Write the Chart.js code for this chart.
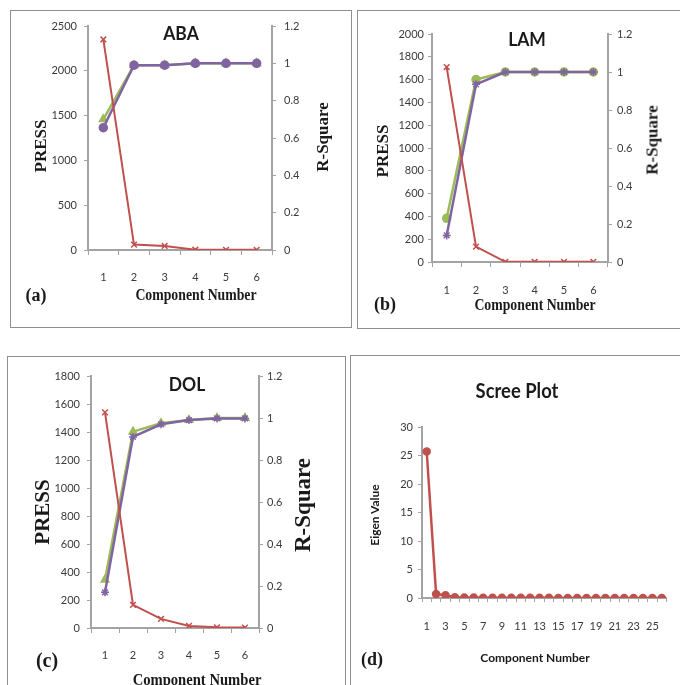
<!DOCTYPE html>
<html>
<head>
<meta charset="utf-8">
<script src="https://cdn.jsdelivr.net/npm/chart.js@4.4.0/dist/chart.umd.min.js"></script>
<style>
  body { margin: 0; width: 680px; height: 685px; position: relative; overflow: hidden; background: #fff; }
  .panel { position: absolute; border: 1px solid #8f8f8f; box-sizing: border-box; }
  canvas { position: absolute; }
  .txt { position: absolute; white-space: nowrap; line-height: 1; color: #1a1a1a; }
  .serif { font-family: "Liberation Serif", serif; font-weight: bold; }
  .cal { font-family: Lato, sans-serif; font-weight: bold; }
</style>
</head>
<body>
<div class="panel" style="left:10px;top:10px;width:342px;height:318px"></div>
<div class="panel" style="left:357px;top:10px;width:340px;height:319px"></div>
<div class="panel" style="left:7px;top:356px;width:339px;height:340px"></div>
<div class="panel" style="left:350px;top:355px;width:340px;height:340px"></div>

<canvas id="aba" width="339" height="316" style="left:11px;top:11px"></canvas>
<canvas id="lam" width="322" height="316" style="left:358px;top:11px"></canvas>
<canvas id="dol" width="337" height="328" style="left:8px;top:357px"></canvas>
<canvas id="scree" width="329" height="329" style="left:351px;top:356px"></canvas>

<script>
// component numbers on the x axis
const components = ['1', '2', '3', '4', '5', '6'];

// ABA
const abaPress = [2350, 60, 45, 3, 2, 2];
const abaGreen = [0.70, 0.99, 0.99, 1.0, 1.0, 1.0];
const abaPurple = [0.655, 0.99, 0.99, 1.0, 1.0, 1.0];

// LAM
const lamPress = [1710, 135, 2, 2, 2, 2];
const lamGreen = [0.23, 0.96, 1.0, 1.0, 1.0, 1.0];
const lamPurple = [0.14, 0.935, 1.0, 1.0, 1.0, 1.0];

// DOL
const dolPress = [1540, 165, 65, 15, 5, 3];
const dolGreen = [0.23, 0.935, 0.975, 0.99, 1.0, 1.0];
const dolPurple = [0.17, 0.91, 0.97, 0.99, 0.998, 0.998];

// scree plot
const screeComponents = [];
for (let i = 1; i <= 26; i++) screeComponents.push(String(i));
const eigenValues = [25.7, 0.7, 0.5, 0.12, 0.08, 0.07, 0.06, 0.05, 0.05, 0.04, 0.04, 0.03, 0.03,
                     0.03, 0.02, 0.02, 0.02, 0.02, 0.01, 0.01, 0.01, 0.01, 0.01, 0.01, 0.01, 0.01];

const red = '#c0504d';
const green = '#9bbb59';
const purple = '#8064a2';
const axisGray = '#a3a3a3';
const tickFont = { family: 'Lato', size: 11 };
const tickColor = '#3a3a3a';

Chart.defaults.animation = false;
Chart.defaults.responsive = false;
Chart.defaults.plugins.legend.display = false;
Chart.defaults.plugins.tooltip.enabled = false;

function plsChart(id, press, g, p, pressMax, pressStep, box, gStyle, pStyle) {
  new Chart(document.getElementById(id), {
    type: 'line',
    data: {
      labels: components,
      datasets: [
        { data: press, yAxisID: 'y', borderColor: red, backgroundColor: red, borderWidth: 2,
          pointStyle: 'crossRot', pointRadius: 4, pointBorderWidth: 1.5, order: 1 },
        { data: g, yAxisID: 'y1', borderColor: green, backgroundColor: green, borderWidth: 2.5,
          pointStyle: gStyle, pointRadius: 3.5, order: 3 },
        { data: p, yAxisID: 'y1', borderColor: purple, backgroundColor: purple, borderWidth: 2.5,
          pointStyle: pStyle, pointRadius: 4, pointBorderWidth: 1.5, order: 2 }
      ]
    },
    options: {
      layout: { padding: { top: box.top, left: 0, right: 0, bottom: 0 } },
      scales: {
        x: {
          offset: true,
          grid: { offset: true, drawOnChartArea: false, tickLength: 5, color: axisGray },
          border: { color: axisGray, width: 2 },
          ticks: { font: tickFont, color: tickColor, padding: box.xPad, maxRotation: 0 },
          afterFit: s => { s.height = box.xH; }
        },
        y: {
          position: 'left', min: 0, max: pressMax,
          grid: { drawOnChartArea: false, tickLength: 4, color: axisGray },
          border: { color: axisGray, width: 2 },
          ticks: { stepSize: pressStep, font: tickFont, color: tickColor, padding: box.lPad,
                   callback: v => String(v) },
          afterFit: s => { s.width = box.leftW; }
        },
        y1: {
          position: 'right', min: 0, max: 1.2,
          grid: { drawOnChartArea: false, tickLength: 4, color: axisGray },
          border: { color: axisGray, width: 2 },
          ticks: { stepSize: 0.2, font: tickFont, color: tickColor, padding: box.rPad,
                   callback: v => String(Number(v.toFixed(1))) },
          afterFit: s => { s.width = box.rightW; }
        }
      }
    }
  });
}

plsChart('aba', abaPress, abaGreen, abaPurple, 2500, 500,
  { top: 15, leftW: 77, rightW: 78, xH: 77, xPad: 16, lPad: 7, rPad: 8 }, 'triangle', 'circle');
plsChart('lam', lamPress, lamGreen, lamPurple, 2000, 200,
  { top: 23, leftW: 74, rightW: 72, xH: 65, xPad: 17, lPad: 4, rPad: 5 }, 'circle', 'star');
plsChart('dol', dolPress, dolGreen, dolPurple, 1800, 200,
  { top: 19, leftW: 83, rightW: 86, xH: 57, xPad: 16, lPad: 7, rPad: 4 }, 'triangle', 'star');

new Chart(document.getElementById('scree'), {
  type: 'line',
  data: {
    labels: screeComponents,
    datasets: [{ data: eigenValues, borderColor: red, backgroundColor: red, borderWidth: 2.5,
                 pointStyle: 'circle', pointRadius: 3 }]
  },
  options: {
    layout: { padding: { top: 71, left: 0, right: 10, bottom: 0 } },
    scales: {
      x: {
        offset: true,
        grid: { offset: true, drawOnChartArea: false, tickLength: 4, color: axisGray },
        border: { color: axisGray, width: 2 },
        ticks: { font: tickFont, color: tickColor, padding: 18, maxRotation: 0, autoSkip: false,
                 callback: (v, i) => (i % 2 === 0 ? screeComponents[i] : '') },
        afterFit: s => { s.height = 87; }
      },
      y: {
        min: 0, max: 30,
        grid: { drawOnChartArea: false, tickLength: 4, color: axisGray },
        border: { color: axisGray, width: 2 },
        ticks: { stepSize: 5, font: tickFont, color: tickColor, padding: 5 },
        afterFit: s => { s.width = 71; }
      }
    }
  }
});

// titles and axis names
function label(text, cx, cy, cls, size, rotate, squeeze) {
  const d = document.createElement('div');
  d.className = 'txt ' + cls;
  d.textContent = text;
  d.style.fontSize = size + 'px';
  d.style.left = cx + 'px';
  d.style.top = cy + 'px';
  d.style.transform = 'translate(-50%, -50%)' + (rotate ? ' rotate(-90deg)' : '') +
    (squeeze ? ' scaleX(' + squeeze + ')' : '');
  document.body.appendChild(d);
}

label('ABA', 181, 32, 'cal', 19, false, 0.92);
label('PRESS', 40, 146, 'serif', 17, true);
label('R-Square', 322, 137, 'serif', 17, true);
label('Component Number', 196, 295, 'serif', 16, false, 0.86);
label('(a)', 36, 295, 'serif', 18);

label('LAM', 527, 38, 'cal', 19, false, 0.92);
label('PRESS', 382, 151, 'serif', 17, true);
label('R-Square', 652, 140, 'serif', 17, true);
label('Component Number', 535, 305, 'serif', 16, false, 0.86);
label('(b)', 385, 304, 'serif', 18);

label('DOL', 187, 383, 'cal', 19, false, 0.92);
label('PRESS', 42, 512, 'serif', 21, true);
label('R-Square', 302, 505, 'serif', 23, true);
label('Component Number', 197, 679, 'serif', 17, false, 0.86);
label('(c)', 47, 660, 'serif', 20);

label('Scree Plot', 517, 390, 'cal', 20, false, 0.92);
label('Eigen Value', 375, 515, 'cal', 12, true);
label('Component Number', 535, 658, 'cal', 12);
label('(d)', 372, 659, 'serif', 18);
</script>
</body>
</html>
